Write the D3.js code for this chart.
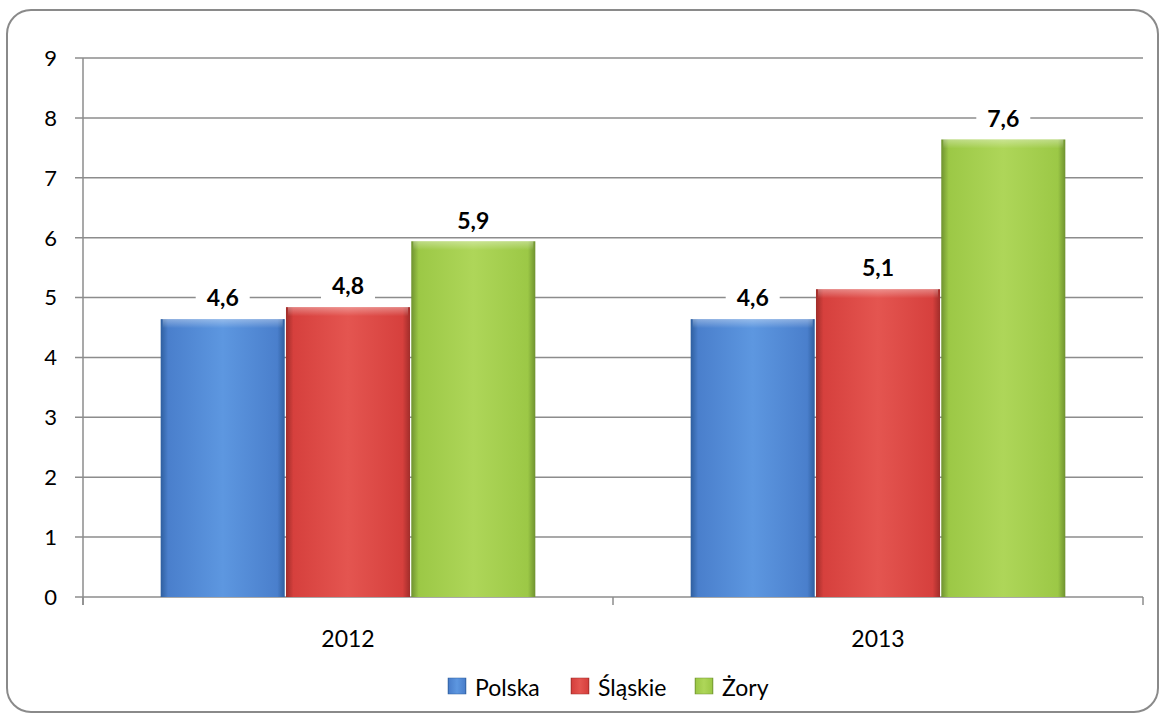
<!DOCTYPE html>
<html>
<head>
<meta charset="utf-8">
<script src="https://cdn.jsdelivr.net/npm/d3@7"></script>
<style>
  body { margin: 0; background: #fff; }
  text { font-family: Lato, "Open Sans", sans-serif; }
</style>
</head>
<body>
<div id="chart"></div>
<script>
var years = ["2012", "2013"];
var seriesNames = ["Polska", "Śląskie", "Żory"];
var polska = [4.64, 4.64];
var slaskie = [4.84, 5.14];
var zory = [5.94, 7.64];
var yTicks = [0, 1, 2, 3, 4, 5, 6, 7, 8, 9];

var colors = [
  { base: "#4a7fcc", light: "#5d97e0", dark: "#2f5f9f" },
  { base: "#d6403d", light: "#e45550", dark: "#a02d2a" },
  { base: "#9cc846", light: "#aed659", dark: "#6f9230" }
];

var w = 1166, h = 720;
var margin = { left: 83, right: 23, top: 58, bottom: 123 };
var pw = w - margin.left - margin.right;
var ph = h - margin.top - margin.bottom;

var svg = d3.select("#chart").append("svg")
  .attr("width", w)
  .attr("height", h);

var defs = svg.append("defs");
colors.forEach(function(c, i) {
  var g = defs.append("linearGradient")
    .attr("id", "grad" + i)
    .attr("x1", 0).attr("x2", 1).attr("y1", 0).attr("y2", 0);
  g.append("stop").attr("offset", "0%").attr("stop-color", c.dark);
  g.append("stop").attr("offset", "6%").attr("stop-color", c.base);
  g.append("stop").attr("offset", "50%").attr("stop-color", c.light);
  g.append("stop").attr("offset", "94%").attr("stop-color", c.base);
  g.append("stop").attr("offset", "100%").attr("stop-color", c.dark);
  var t = defs.append("linearGradient")
    .attr("id", "top" + i)
    .attr("x1", 0).attr("x2", 0).attr("y1", 0).attr("y2", 1);
  t.append("stop").attr("offset", "0%").attr("stop-color", "#ffffff").attr("stop-opacity", 0.35);
  t.append("stop").attr("offset", "100%").attr("stop-color", "#ffffff").attr("stop-opacity", 0);
});

// outer frame
svg.append("rect")
  .attr("x", 7).attr("y", 10)
  .attr("width", 1151).attr("height", 702)
  .attr("rx", 24).attr("ry", 24)
  .attr("fill", "#fff")
  .attr("stroke", "#8a8a8a")
  .attr("stroke-width", 2);

var g = svg.append("g")
  .attr("transform", "translate(" + margin.left + "," + margin.top + ")");

var x0 = d3.scaleBand()
  .domain(years)
  .range([0, pw]);

var x1 = d3.scaleBand()
  .domain(d3.range(seriesNames.length))
  .range([0, x0.bandwidth()])
  .paddingOuter(0.62)
  .paddingInner(0.01);

var y = d3.scaleLinear()
  .domain([0, 9])
  .range([ph, 0]);

// gridlines
g.selectAll(".grid")
  .data(yTicks)
  .enter()
  .append("line")
  .attr("x1", -8)
  .attr("x2", pw)
  .attr("y1", function(d) { return y(d); })
  .attr("y2", function(d) { return y(d); })
  .attr("stroke", "#8c8c8c")
  .attr("stroke-width", 1.5);

g.selectAll(".ylab")
  .data(yTicks)
  .enter()
  .append("text")
  .attr("x", -26)
  .attr("y", function(d) { return y(d); })
  .attr("dy", "0.36em")
  .attr("text-anchor", "end")
  .attr("font-size", "22px")
  .attr("fill", "#000")
  .text(function(d) { return d; });

// axes lines
g.append("line")
  .attr("x1", 0).attr("x2", 0)
  .attr("y1", 0).attr("y2", ph + 8)
  .attr("stroke", "#8c8c8c").attr("stroke-width", 1.5);

g.selectAll(".xtick")
  .data([0, pw / 2, pw])
  .enter()
  .append("line")
  .attr("x1", function(d) { return d; })
  .attr("x2", function(d) { return d; })
  .attr("y1", ph)
  .attr("y2", ph + 8)
  .attr("stroke", "#8c8c8c").attr("stroke-width", 1.5);

g.selectAll(".xlab")
  .data(years)
  .enter()
  .append("text")
  .attr("x", function(d) { return x0(d) + x0.bandwidth() / 2; })
  .attr("y", ph + 50)
  .attr("text-anchor", "middle")
  .attr("font-size", "23px")
  .text(function(d) { return d; });

var rows = [];
years.forEach(function(yr, i) {
  [polska, slaskie, zory].forEach(function(s, j) {
    rows.push({ year: yr, s: j, v: s[i] });
  });
});

var fmt = function(v) { return d3.format(".1f")(v).replace(".", ","); };

var bars = g.selectAll(".bar")
  .data(rows)
  .enter()
  .append("g");

bars.append("rect")
  .attr("x", function(d) { return x0(d.year) + x1(d.s); })
  .attr("y", function(d) { return y(d.v); })
  .attr("width", x1.bandwidth())
  .attr("height", function(d) { return ph - y(d.v); })
  .attr("fill", function(d) { return "url(#grad" + d.s + ")"; });

bars.append("rect")
  .attr("x", function(d) { return x0(d.year) + x1(d.s) + 2; })
  .attr("y", function(d) { return y(d.v); })
  .attr("width", x1.bandwidth() - 4)
  .attr("height", 9)
  .attr("fill", function(d) { return "url(#top" + d.s + ")"; });

// value labels with white background
var labels = g.selectAll(".vlab")
  .data(rows)
  .enter()
  .append("g")
  .attr("transform", function(d) {
    return "translate(" + (x0(d.year) + x1(d.s) + x1.bandwidth() / 2) + "," + (y(d.v) - 21) + ")";
  });

labels.append("rect")
  .attr("x", -27).attr("y", -13)
  .attr("width", 54).attr("height", 26)
  .attr("fill", "#fff");

labels.append("text")
  .attr("text-anchor", "middle")
  .attr("dy", "0.36em")
  .attr("font-size", "23px")
  .attr("font-weight", "bold")
  .text(function(d) { return fmt(d.v); });

// legend
var legendX = [448, 571, 695];
var legend = svg.selectAll(".leg")
  .data(seriesNames)
  .enter()
  .append("g")
  .attr("transform", function(d, i) { return "translate(" + legendX[i] + ",678)"; });

legend.append("rect")
  .attr("width", 18).attr("height", 16)
  .attr("fill", function(d, i) { return "url(#grad" + i + ")"; })
  .attr("stroke", function(d, i) { return colors[i].dark; })
  .attr("stroke-width", 0.5);

legend.append("text")
  .attr("x", 27)
  .attr("y", 10)
  .attr("dy", "0.36em")
  .attr("font-size", "23px")
  .text(function(d) { return d; });
</script>
</body>
</html>
